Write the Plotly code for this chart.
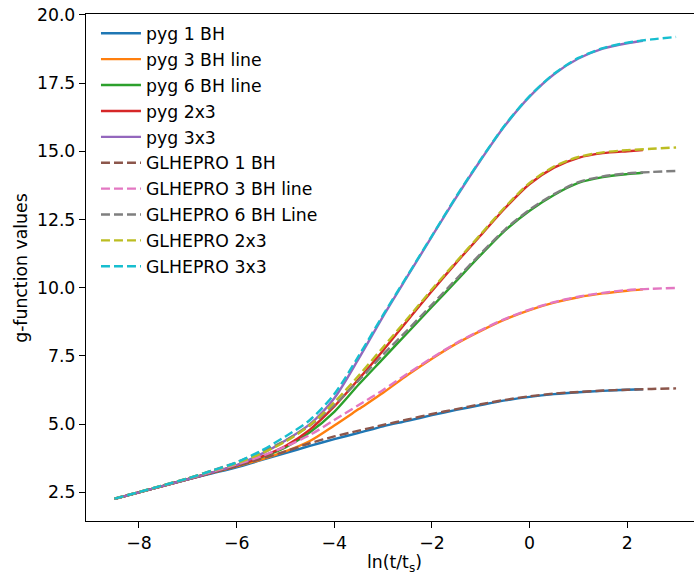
import plotly.graph_objects as go

# x values (ln(t/ts))
x_pyg = [-8.5, -8.0, -7.5, -7.0, -6.5, -6.0, -5.5, -5.0, -4.5, -4.0, -3.5, -3.0, -2.5, -2.0,
         -1.5, -1.0, -0.5, 0.0, 0.5, 1.0, 1.5, 2.0, 2.32]
x_glhe = x_pyg[:-1] + [2.5, 3.0]

# pyg series
pyg_1bh = [2.26, 2.5, 2.74, 2.98, 3.2, 3.42, 3.68, 3.94, 4.2, 4.45, 4.68, 4.92, 5.12, 5.33,
           5.52, 5.7, 5.87, 6.0, 6.1, 6.17, 6.22, 6.26, 6.28]
pyg_3bh = [2.26, 2.5, 2.74, 2.98, 3.22, 3.45, 3.7, 4.0, 4.38, 4.95, 5.55, 6.15, 6.8, 7.4,
           7.95, 8.42, 8.84, 9.18, 9.45, 9.65, 9.79, 9.89, 9.94]
pyg_6bh = [2.26, 2.5, 2.74, 2.98, 3.22, 3.48, 3.78, 4.15, 4.7, 5.45, 6.45, 7.4, 8.35, 9.3,
           10.25, 11.2, 12.1, 12.82, 13.4, 13.84, 14.05, 14.16, 14.21]
pyg_2x3 = [2.26, 2.5, 2.74, 2.98, 3.22, 3.48, 3.8, 4.2, 4.8, 5.65, 6.65, 7.7, 8.8, 9.88,
           10.92, 11.92, 12.92, 13.8, 14.4, 14.76, 14.93, 15.0, 15.04]
pyg_3x3 = [2.26, 2.5, 2.74, 2.98, 3.23, 3.5, 3.9, 4.4, 5.0, 5.95, 7.4, 8.95, 10.42, 11.88,
           13.32, 14.68, 15.95, 17.0, 17.82, 18.4, 18.76, 18.96, 19.05]

# GLHEPRO series
glhe_1bh = [2.27, 2.51, 2.75, 3.0, 3.23, 3.46, 3.73, 4.0, 4.3, 4.55, 4.76, 4.97, 5.17, 5.37,
            5.55, 5.73, 5.89, 6.02, 6.12, 6.18, 6.23, 6.26, 6.29, 6.31]
glhe_3bh = [2.27, 2.51, 2.75, 3.0, 3.25, 3.52, 3.82, 4.18, 4.6, 5.15, 5.7, 6.25, 6.85, 7.43,
            7.97, 8.44, 8.86, 9.2, 9.47, 9.67, 9.81, 9.91, 9.96, 9.99]
glhe_6bh = [2.27, 2.51, 2.76, 3.01, 3.3, 3.6, 3.98, 4.4, 4.95, 5.7, 6.6, 7.55, 8.45, 9.38,
            10.32, 11.25, 12.14, 12.86, 13.43, 13.87, 14.08, 14.19, 14.24, 14.28]
glhe_2x3 = [2.27, 2.51, 2.76, 3.01, 3.29, 3.56, 3.92, 4.36, 4.96, 5.8, 6.78, 7.82, 8.87, 9.94,
            10.96, 11.96, 12.96, 13.84, 14.44, 14.79, 14.96, 15.04, 15.09, 15.14]
glhe_3x3 = [2.27, 2.51, 2.76, 3.01, 3.3, 3.6, 4.02, 4.55, 5.15, 6.1, 7.5, 9.0, 10.45, 11.9,
            13.35, 14.7, 15.97, 17.02, 17.84, 18.42, 18.78, 18.98, 19.1, 19.19]

series = [
    ("pyg 1 BH", x_pyg, pyg_1bh, "#1f77b4", "solid"),
    ("pyg 3 BH line", x_pyg, pyg_3bh, "#ff7f0e", "solid"),
    ("pyg 6 BH line", x_pyg, pyg_6bh, "#2ca02c", "solid"),
    ("pyg 2x3", x_pyg, pyg_2x3, "#d62728", "solid"),
    ("pyg 3x3", x_pyg, pyg_3x3, "#9467bd", "solid"),
    ("GLHEPRO 1 BH", x_glhe, glhe_1bh, "#8c564b", "9px,4px"),
    ("GLHEPRO 3 BH line", x_glhe, glhe_3bh, "#e377c2", "9px,4px"),
    ("GLHEPRO 6 BH Line", x_glhe, glhe_6bh, "#7f7f7f", "9px,4px"),
    ("GLHEPRO 2x3", x_glhe, glhe_2x3, "#bcbd22", "9px,4px"),
    ("GLHEPRO 3x3", x_glhe, glhe_3x3, "#17becf", "9px,4px"),
]

fig = go.Figure()
for i, (name, xs, ys, color, dash) in enumerate(series):
    fig.add_trace(go.Scatter(
        x=xs, y=ys, mode="lines", name=name, legendgroup=f"g{i}",
        line=dict(color=color, width=2.4, dash=dash, shape="spline", smoothing=0.8),
    ))

font = dict(family="DejaVu Sans", size=17.3, color="black")
fig.update_layout(
    width=694, height=573,
    margin=dict(l=86, r=0, t=14, b=52, autoexpand=False),
    paper_bgcolor="white", plot_bgcolor="white",
    font=font,
    showlegend=True,
    legend=dict(x=0.0164, y=0.997, xanchor="left", yanchor="top",
                bgcolor="rgba(255,255,255,0)", font=font, tracegroupgap=0.4,
                itemwidth=40),
    xaxis=dict(range=[-9.085, 3.367], tickvals=[-8, -6, -4, -2, 0, 2],
               ticks="outside", ticklen=6, tickwidth=1.3, tickcolor="black",
               showline=True, linecolor="black", linewidth=1.3, mirror=True,
               showgrid=False, zeroline=False, automargin=False),
    yaxis=dict(range=[1.45, 20.03], tick0=0, dtick=2.5, tickformat=".1f",
               ticks="outside", ticklen=6, tickwidth=1.3, tickcolor="black",
               showline=True, linecolor="black", linewidth=1.3, mirror=False,
               showgrid=False, zeroline=False, automargin=False),
    annotations=[
        dict(text="ln(t/t<sub>s</sub>)", xref="paper", yref="paper", x=0.508, y=-0.083,
             xanchor="center", yanchor="middle", showarrow=False, font=font),
        dict(text="g-function values", xref="paper", yref="paper", x=-0.108, y=0.5,
             xanchor="center", yanchor="middle", textangle=-90, showarrow=False, font=font),
    ],
)

fig.write_html("out.html", config={"displayModeBar": False},
               post_script="document.body.style.margin='0';")
